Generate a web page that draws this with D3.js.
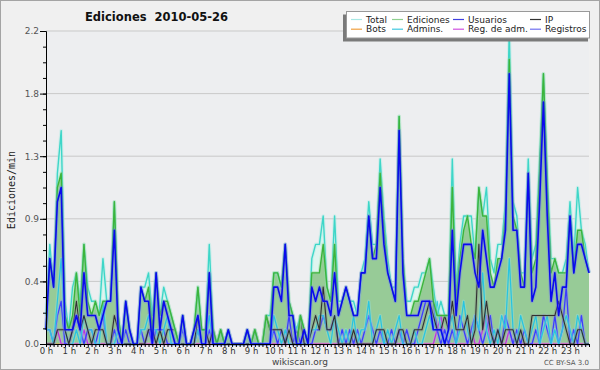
<!DOCTYPE html>
<html>
<head>
<meta charset="utf-8">
<script src="https://cdn.jsdelivr.net/npm/d3@7"></script>
<style>
  body { margin: 0; background: #f0f0f0; }
  svg text { font-family: "DejaVu Sans", sans-serif; }
</style>
</head>
<body>
<div id="chart"></div>
<script>
// 10-minute slots, 0h00 .. 23h50 (edits per minute)
const hourLabels = ["0 h","1 h","2 h","3 h","4 h","5 h","6 h","7 h","8 h","9 h","10 h","11 h",
  "12 h","13 h","14 h","15 h","16 h","17 h","18 h","19 h","20 h","21 h","22 h","23 h"];
const yTicks = [0, 0.44, 0.88, 1.32, 1.76, 2.2];
const yTickLabels = ["0.0", "0.4", "0.9", "1.3", "1.8", "2.2"];

const total = [
  0.2,0.7,0.4,1.2,1.5,0.3, 0.1,0.4,0.5,0.3,0.7,0.4, 0.3,0.3,0.2,0.6,0.3,0.3, 1.0,0.2,0.0,0.3,0.1,0.0,
  0.0,0.4,0.4,0.5,0.2,0.5, 0.2,0.4,0.3,0.2,0.1,0.0, 0.2,0.0,0.0,0.1,0.4,0.1, 0.1,0.7,0.1,0.0,0.1,0.0,
  0.1,0.0,0.0,0.0,0.0,0.1, 0.0,0.1,0.0,0.0,0.2,0.2, 0.5,0.5,0.4,0.7,0.3,0.2, 0.1,0.2,0.1,0.0,0.6,0.7,
  0.7,0.9,0.4,0.3,0.9,0.3, 0.3,0.4,0.3,0.3,0.2,0.5, 0.6,1.0,0.7,0.7,1.3,0.9, 0.6,0.4,0.4,1.6,0.6,0.3,
  0.3,0.4,0.4,0.5,0.5,0.6, 0.4,0.2,0.3,0.2,0.2,1.3, 0.4,0.7,0.9,0.9,0.9,0.6, 1.1,0.9,1.1,0.6,0.5,0.7,
  0.7,1.0,2.2,1.0,0.9,0.5, 0.5,1.3,0.6,0.7,1.3,1.9, 1.2,0.6,0.6,0.5,0.5,0.6, 1.0,0.6,1.1,0.8,0.7,0.5];
const ediciones = [
  0.1,0.6,0.4,1.1,1.2,0.2, 0.1,0.2,0.5,0.2,0.7,0.3, 0.2,0.3,0.2,0.3,0.3,0.3, 1.0,0.2,0.0,0.3,0.1,0.0,
  0.0,0.4,0.3,0.4,0.1,0.5, 0.2,0.3,0.3,0.2,0.1,0.0, 0.2,0.0,0.0,0.1,0.4,0.1, 0.1,0.5,0.1,0.0,0.1,0.0,
  0.1,0.0,0.0,0.0,0.0,0.1, 0.0,0.1,0.0,0.0,0.2,0.1, 0.5,0.5,0.4,0.7,0.3,0.2, 0.0,0.2,0.1,0.0,0.5,0.5,
  0.5,0.7,0.4,0.3,0.7,0.2, 0.3,0.4,0.3,0.2,0.2,0.5, 0.5,0.9,0.6,0.7,1.2,0.8, 0.5,0.4,0.3,1.6,0.6,0.2,
  0.2,0.3,0.3,0.4,0.5,0.6, 0.3,0.2,0.2,0.2,0.2,1.1, 0.3,0.6,0.8,0.9,0.7,0.6, 1.1,0.9,0.9,0.5,0.4,0.6,
  0.6,0.9,2.0,0.9,0.8,0.5, 0.4,1.2,0.5,0.6,1.2,1.9, 1.1,0.5,0.6,0.5,0.5,0.5, 0.9,0.5,0.8,0.8,0.6,0.5];
const usuarios = [
  0.1,0.6,0.4,1.0,1.1,0.1, 0.1,0.1,0.2,0.1,0.5,0.2, 0.2,0.2,0.1,0.2,0.3,0.3, 0.8,0.1,0.0,0.3,0.1,0.0,
  0.0,0.4,0.3,0.3,0.0,0.5, 0.1,0.3,0.2,0.1,0.0,0.0, 0.2,0.0,0.0,0.1,0.2,0.0, 0.0,0.5,0.0,0.0,0.0,0.0,
  0.1,0.0,0.0,0.0,0.0,0.1, 0.0,0.0,0.0,0.0,0.0,0.0, 0.4,0.4,0.3,0.7,0.2,0.2, 0.0,0.0,0.1,0.0,0.4,0.3,
  0.4,0.3,0.3,0.2,0.5,0.2, 0.3,0.4,0.3,0.2,0.2,0.5, 0.5,0.9,0.6,0.6,1.1,0.7, 0.5,0.4,0.3,1.5,0.5,0.2,
  0.2,0.2,0.2,0.3,0.3,0.3, 0.1,0.1,0.1,0.0,0.1,0.8, 0.2,0.5,0.7,0.7,0.7,0.5, 0.4,0.8,0.6,0.4,0.4,0.5,
  0.6,0.8,1.9,0.8,0.8,0.4, 0.4,1.2,0.3,0.4,1.0,1.7, 0.9,0.3,0.5,0.2,0.4,0.4, 0.9,0.5,0.7,0.7,0.6,0.5];
const ip = [
  0.0,0.0,0.0,0.1,0.1,0.1, 0.0,0.1,0.3,0.1,0.2,0.1, 0.0,0.1,0.1,0.1,0.0,0.0, 0.2,0.1,0.0,0.0,0.0,0.0,
  0.0,0.0,0.0,0.1,0.1,0.0, 0.1,0.0,0.1,0.1,0.1,0.0, 0.0,0.0,0.0,0.0,0.2,0.1, 0.1,0.0,0.1,0.0,0.1,0.0,
  0.0,0.0,0.0,0.0,0.0,0.0, 0.0,0.1,0.0,0.0,0.2,0.1, 0.1,0.1,0.1,0.0,0.1,0.0, 0.0,0.2,0.0,0.0,0.1,0.2,
  0.1,0.4,0.1,0.1,0.2,0.0, 0.0,0.0,0.0,0.1,0.0,0.0, 0.0,0.0,0.0,0.1,0.1,0.1, 0.0,0.0,0.0,0.1,0.1,0.0,
  0.0,0.1,0.1,0.1,0.2,0.3, 0.2,0.1,0.1,0.2,0.1,0.3, 0.1,0.1,0.1,0.2,0.0,0.1, 0.7,0.1,0.3,0.1,0.0,0.1,
  0.0,0.1,0.1,0.1,0.0,0.1, 0.0,0.0,0.2,0.2,0.2,0.2, 0.2,0.2,0.2,0.3,0.2,0.1, 0.0,0.0,0.1,0.1,0.0,0.0];
const bots = [
  0,0,0,0,0,0, 0,0,0,0,0,0, 0,0,0,0,0,0, 0,0,0,0,0,0, 0,0,0,0,0,0, 0,0,0,0,0,0,
  0,0,0,0,0,0, 0,0,0,0,0,0, 0,0,0,0,0,0, 0,0,0,0,0,0, 0,0,0,0,0,0, 0,0,0,0,0,0,
  0,0,0,0,0,0, 0,0,0,0,0,0, 0,0,0,0,0,0, 0,0,0,0,0,0, 0,0,0,0,0,0, 0,0,0,0,0,0,
  0,0,0,0,0,0, 0,0,0,0,0,0, 0,0,0,0,0,0, 0,0,0,0,0,0, 0,0,0,0,0,0, 0,0,0,0,0,0];
const admins = [
  0.1,0.1,0.0,0.3,0.6,0.1, 0.0,0.0,0.1,0.0,0.2,0.1, 0.1,0.0,0.0,0.3,0.0,0.0, 0.0,0.1,0.0,0.0,0.0,0.0,
  0.0,0.1,0.1,0.2,0.1,0.1, 0.0,0.1,0.2,0.0,0.0,0.0, 0.0,0.0,0.0,0.0,0.1,0.0, 0.0,0.2,0.0,0.0,0.0,0.0,
  0.0,0.0,0.0,0.0,0.0,0.0, 0.0,0.0,0.0,0.0,0.0,0.0, 0.2,0.1,0.0,0.1,0.0,0.0, 0.0,0.0,0.0,0.0,0.1,0.1,
  0.2,0.2,0.1,0.0,0.2,0.1, 0.0,0.1,0.0,0.2,0.0,0.1, 0.1,0.3,0.0,0.1,0.2,0.0, 0.1,0.0,0.1,0.2,0.0,0.0,
  0.0,0.1,0.0,0.0,0.1,0.2, 0.1,0.3,0.1,0.0,0.1,0.2, 0.0,0.1,0.3,0.1,0.0,0.2, 0.1,0.5,0.1,0.0,0.1,0.0,
  0.2,0.1,0.6,0.1,0.0,0.2, 0.1,0.0,0.1,0.2,0.0,0.1, 0.2,0.0,0.1,0.0,0.1,0.2, 0.1,0.0,0.2,0.1,0.0,0.0];
const regAdm = [
  0,0,0,0.1,0,0, 0,0,0,0,0.1,0, 0,0,0,0,0,0, 0,0,0,0,0,0, 0,0,0,0,0,0, 0,0,0,0,0,0,
  0,0,0,0,0,0, 0,0,0,0,0,0, 0,0,0,0,0,0, 0,0,0,0,0,0, 0,0,0,0,0,0, 0,0,0,0,0,0,
  0,0,0,0,0,0, 0,0,0,0,0,0, 0,0,0,0,0,0, 0,0,0,0,0,0, 0,0,0,0,0,0, 0,0.1,0.2,0,0,0,
  0,0,0,0,0.1,0, 0,0.1,0.2,0,0,0, 0,0,0.1,0,0,0, 0,0,0,0,0,0, 0,0,0,0,0,0, 0,0,0,0,0,0];
const registros = [
  0.1,0.1,0.0,0.2,0.3,0.0, 0.0,0.1,0.2,0.1,0.0,0.1, 0.1,0.0,0.1,0.2,0.0,0.0, 0.1,0.0,0.0,0.1,0.0,0.0,
  0.0,0.1,0.0,0.1,0.0,0.1, 0.1,0.1,0.0,0.0,0.0,0.0, 0.1,0.0,0.0,0.0,0.1,0.0, 0.0,0.1,0.0,0.0,0.0,0.0,
  0.0,0.0,0.0,0.0,0.0,0.0, 0.0,0.0,0.0,0.0,0.0,0.0, 0.1,0.0,0.1,0.0,0.2,0.0, 0.1,0.0,0.0,0.0,0.0,0.1,
  0.1,0.2,0.1,0.1,0.2,0.0, 0.1,0.0,0.1,0.0,0.1,0.0, 0.1,0.2,0.1,0.0,0.1,0.0, 0.0,0.1,0.0,0.1,0.0,0.1,
  0.0,0.0,0.1,0.2,0.3,0.3, 0.3,0.1,0.0,0.1,0.0,0.1, 0.0,0.2,0.1,0.0,0.1,0.2, 0.1,0.0,0.1,0.2,0.0,0.1,
  0.0,0.2,0.1,0.0,0.1,0.0, 0.1,0.0,0.0,0.1,0.0,0.2, 0.1,0.0,0.2,0.0,0.1,0.4, 0.0,0.1,0.0,0.2,0.0,0.0];

const legendRows = [
  [["Total", "#a8e8e4"], ["Ediciones", "#8fd08f"], ["Usuarios", "#4040e0"], ["IP", "#333333"]],
  [["Bots", "#f0a040"], ["Admins.", "#40c8e0"], ["Reg. de adm.", "#d050e0"], ["Registros", "#7070f0"]]
];

const W = 600, H = 370;
const plotLeft = 46, plotRight = 589, plotTop = 31, plotBottom = 344;

const svg = d3.select("#chart").append("svg")
  .attr("width", W).attr("height", H);

svg.append("rect")
  .attr("x", 0).attr("y", 0).attr("width", W).attr("height", H)
  .attr("fill", "#f0f0f0").attr("stroke", "#a4a4a4").attr("stroke-width", 2);

svg.append("rect")
  .attr("x", plotLeft).attr("y", plotTop)
  .attr("width", plotRight - plotLeft).attr("height", plotBottom - plotTop)
  .attr("fill", "#edeef0");

const x = d3.scaleLinear().domain([0, 143]).range([plotLeft, plotRight]);
const y = d3.scaleLinear().domain([0, 2.2]).range([plotBottom, plotTop]);

// grid
svg.append("g").selectAll("line")
  .data(yTicks.slice(1))
  .enter()
  .append("line")
    .attr("x1", plotLeft).attr("x2", plotRight)
    .attr("y1", d => y(d)).attr("y2", d => y(d))
    .attr("stroke", "#c9c9c9");

const plot = svg.append("g");

const area = d3.area()
  .x((d, i) => x(i))
  .y0(y(0))
  .y1(d => y(d));

plot.append("path").datum(total)
  .attr("d", area).attr("fill", "#dff5ef");
plot.append("path").datum(ediciones)
  .attr("d", area).attr("fill", "#97cb97");

const line = d3.line()
  .x((d, i) => x(i))
  .y(d => y(d));

function drawLine(data, color, width, glow) {
  if (glow) {
    plot.append("path").datum(data)
      .attr("d", line).attr("fill", "none")
      .attr("stroke", glow).attr("stroke-width", width + 2.2)
      .attr("stroke-opacity", 0.35).attr("stroke-linejoin", "round");
  }
  plot.append("path").datum(data)
    .attr("d", line).attr("fill", "none")
    .attr("stroke", color).attr("stroke-width", width)
    .attr("stroke-linejoin", "round");
}

drawLine(bots, "#f0a040", 1.2);
drawLine(regAdm, "#c030e0", 1.2, "#e090f0");
drawLine(registros, "#3c3cff", 1.3, "#9090ff");
drawLine(admins, "#28c4e0", 1.2, "#90e4f0");
drawLine(ip, "#303030", 1.1, "#888888");
drawLine(total, "#3ed6c8", 1.4, "#9eece2");
drawLine(ediciones, "#3cb43c", 1.4, "#8fd88f");
drawLine(usuarios, "#0a0aee", 1.6, "#7070ff");

// axes
const xAxis = svg.append("g")
  .attr("transform", `translate(0, ${plotBottom})`)
  .call(d3.axisBottom(x)
    .tickValues(d3.range(0, 144))
    .tickSize(3)
    .tickPadding(1)
    .tickFormat(d => d % 6 === 0 ? hourLabels[d / 6] : ""));
xAxis.select(".domain").attr("stroke", "#000");
xAxis.selectAll("line").attr("stroke", "#000");
xAxis.selectAll("text")
  .attr("font-size", 8.5).attr("fill", "#333")
  .style("font-family", "DejaVu Sans, sans-serif");

const yAxisMinor = svg.append("g")
  .attr("transform", `translate(${plotLeft}, 0)`)
  .call(d3.axisLeft(y)
    .tickValues(d3.range(0, 21).map(k => k * 0.11))
    .tickSize(3)
    .tickFormat(""));
yAxisMinor.select(".domain").remove();

const yAxis = svg.append("g")
  .attr("transform", `translate(${plotLeft}, 0)`)
  .call(d3.axisLeft(y)
    .tickValues(yTicks)
    .tickSize(6)
    .tickPadding(1)
    .tickFormat((d, i) => yTickLabels[i]));
yAxis.select(".domain").attr("stroke", "#000");
yAxis.selectAll("text")
  .attr("font-size", 9).attr("fill", "#555")
  .style("font-family", "DejaVu Sans, sans-serif");

// titles
svg.append("text")
  .attr("x", 85).attr("y", 21)
  .attr("font-size", 11.5).attr("font-weight", "bold").attr("fill", "#111")
  .style("white-space", "pre")
  .text("Ediciones  2010-05-26");

svg.append("text")
  .attr("transform", "translate(15, 190) rotate(-90)")
  .attr("text-anchor", "middle")
  .attr("font-size", 10).attr("fill", "#222")
  .style("font-family", "DejaVu Sans Mono, monospace")
  .text("Ediciones/min");

svg.append("text")
  .attr("x", 300).attr("y", 365)
  .attr("text-anchor", "middle")
  .attr("font-size", 9).attr("fill", "#444")
  .text("wikiscan.org");

svg.append("text")
  .attr("x", 589).attr("y", 365)
  .attr("text-anchor", "end")
  .attr("font-size", 7).attr("fill", "#555")
  .text("CC BY-SA 3.0");

// legend
const legend = svg.append("g");
legend.append("rect")
  .attr("x", 343).attr("y", 14.5).attr("width", 245).attr("height", 27)
  .attr("fill", "#7a7a7a");
legend.append("rect")
  .attr("x", 346.5).attr("y", 11.5).attr("width", 243).attr("height", 26.5)
  .attr("fill", "#fff").attr("stroke", "#999");

const colX = [351, 392, 453, 530];
legendRows.forEach((row, r) => {
  const by = 22.5 + r * 9.7;
  row.forEach(([name, color], c) => {
    legend.append("line")
      .attr("x1", colX[c]).attr("x2", colX[c] + 11)
      .attr("y1", by - 3).attr("y2", by - 3)
      .attr("stroke", color).attr("stroke-width", 1.2);
    legend.append("text")
      .attr("x", colX[c] + 15).attr("y", by)
      .attr("font-size", 9).attr("fill", "#222")
      .text(name);
  });
});
</script>
</body>
</html>
